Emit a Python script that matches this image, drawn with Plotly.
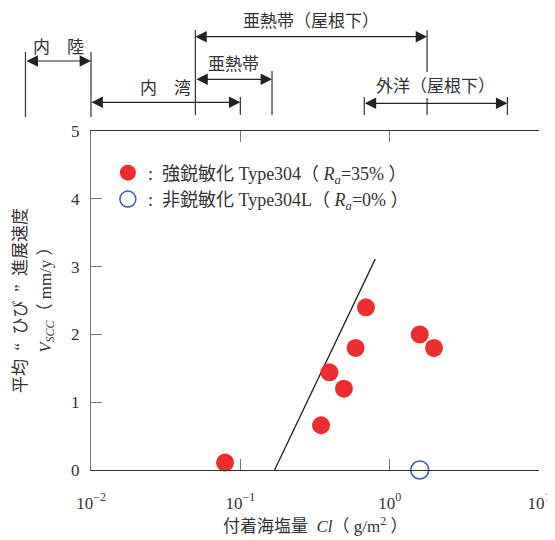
import numpy as np
import plotly.graph_objects as go

# ---------------- data ----------------
cl_sensitized = [0.079, 0.347, 0.395, 0.494, 0.591, 0.694, 1.59, 1.98]
v_sensitized = [0.11, 0.66, 1.44, 1.20, 1.80, 2.40, 2.00, 1.80]
cl_nonsensitized = [1.59]
v_nonsensitized = [0.0]
trend_cl = [0.1695, 0.80]
trend_v = [0.0, 3.11]

x_tickvals = [0.01, 0.1, 1, 10]
x_ticktext = ["10<sup>−2</sup>", "10<sup>−1</sup>", "10<sup>0</sup>", "10<sup>1</sup>"]
y_tickvals = [0, 1, 2, 3, 4, 5]

region_names = ["内　陸", "内　湾", "亜熱帯", "亜熱帯（屋根下）", "外洋（屋根下）"]
region_lo = [0.00364, 0.01, 0.05, 0.05, 0.676]
region_hi = [0.01, 0.1, 0.163, 1.78, 6.14]

# ---------------- layout constants ----------------
# the page body adds an 8 px offset; positions below are screen pixels
SHIFT = 8
W, H = 555, 540
PLOT_L, PLOT_R, PLOT_T, PLOT_B = 91, 542, 131, 470   # screen px
ML = PLOT_L - SHIFT
MT = PLOT_T - SHIFT
MR = W - (PLOT_R - SHIFT)
MB = H - (PLOT_B - SHIFT)
PW, PH = PLOT_R - PLOT_L, PLOT_B - PLOT_T
XMIN, XMAX = -2, 1
FONT = "Liberation Serif, Noto Sans CJK JP"
TXT = "#333333"
SP = "\u2002"  # en space


def xpaper(v):
    return (np.log10(v) - XMIN) / (XMAX - XMIN)


def xpix(px):
    return (px - PLOT_L) / PW


def ypaper(py):
    return (PLOT_B - py) / PH


# header layout (screen pixel rows)
arrow_rows = [61, 102.3, 79.3, 36.7, 103.3]
text_rows = [47.5, 88, 65, 21.5, 86]

fig = go.Figure()

fig.add_trace(go.Scatter(
    x=trend_cl, y=trend_v, mode="lines",
    line=dict(color="#222222", width=1.3),
    showlegend=False, hoverinfo="skip", cliponaxis=False))

fig.add_trace(go.Scatter(
    x=cl_sensitized, y=v_sensitized, mode="markers",
    name=":" + SP + "強鋭敏化 Type304（ <i>R<sub>a</sub></i>=35% ）",
    marker=dict(size=18, color="#EE2E2E", line=dict(width=0)),
    cliponaxis=False, legendgroup="a"))

fig.add_trace(go.Scatter(
    x=cl_nonsensitized, y=v_nonsensitized, mode="markers",
    name=":" + SP + "非鋭敏化 Type304L（ <i>R<sub>a</sub></i>=0% ）",
    marker=dict(size=18, color="white", line=dict(width=1.5, color="#3B5BA9")),
    cliponaxis=False, legendgroup="b"))

# header: range arrows and labels
for name, lo, hi, arow, trow in zip(region_names, region_lo, region_hi, arrow_rows, text_rows):
    x_lo, x_hi = xpaper(lo), xpaper(hi)
    fig.add_annotation(
        x=x_hi, y=ypaper(arow), xref="paper", yref="paper",
        ax=-(x_hi - x_lo) * PW, ay=0, axref="pixel", ayref="pixel",
        text="", showarrow=True, arrowside="end+start",
        arrowhead=2, startarrowhead=2, arrowsize=1.9, startarrowsize=1.9,
        arrowwidth=1.2, arrowcolor="#222222", standoff=0, startstandoff=0)
    fig.add_annotation(
        x=(x_lo + x_hi) / 2, y=ypaper(trow), xref="paper", yref="paper",
        text=name, showarrow=False, xanchor="center", yanchor="middle",
        font=dict(family=FONT, size=17, color=TXT))

# boundary vertical lines: (value, top row px, bottom row px)
vlines = [
    (0.00364, 52, 117), (0.01, 52, 117),
    (0.1, 97, 115),
    (0.05, 30, 115), (0.163, 71, 115),
    (1.78, 30, 72), (1.78, 98, 115),
    (0.676, 97, 115), (6.14, 97, 115),
]
for v, top, bot in vlines:
    fig.add_shape(type="line", xref="paper", yref="paper",
                  x0=xpaper(v), x1=xpaper(v), y0=ypaper(top), y1=ypaper(bot),
                  line=dict(color="#333333", width=1.2))

# axis titles
fig.add_annotation(
    x=xpix(19.5), y=ypaper(300), xref="paper", yref="paper",
    text="平均" + SP + "“" + SP + "ひび" + SP + "”" + SP + "進展速度",
    textangle=-90, showarrow=False,
    xanchor="center", yanchor="middle", font=dict(family=FONT, size=17, color=TXT))
fig.add_annotation(
    x=xpix(46.5), y=ypaper(296), xref="paper", yref="paper",
    text="<i>V</i><sub><i>SCC</i></sub>（ mm/y ）", textangle=-90, showarrow=False,
    xanchor="center", yanchor="middle", font=dict(family=FONT, size=17, color=TXT))
fig.add_annotation(
    x=0.5, y=ypaper(525), xref="paper", yref="paper",
    text="付着海塩量  <i>Cl</i>（ g/m<sup>2</sup> ）", showarrow=False,
    xanchor="center", yanchor="middle", font=dict(family=FONT, size=17, color=TXT))

fig.update_layout(
    width=W, height=H,
    margin=dict(l=ML, r=MR, t=MT, b=MB, pad=0),
    paper_bgcolor="white", plot_bgcolor="white",
    font=dict(family=FONT, size=17, color=TXT),
    showlegend=True,
    legend=dict(x=xpix(108), y=ypaper(154.5), xanchor="left", yanchor="top",
                bgcolor="rgba(0,0,0,0)", font=dict(family=FONT, size=18, color=TXT),
                tracegroupgap=0, traceorder="grouped"),
    xaxis=dict(type="log", range=[XMIN, XMAX], tickvals=x_tickvals, ticktext=x_ticktext,
               ticks="inside", ticklen=11, tickwidth=1.2, tickcolor="#777777",
               showline=True, linecolor="#333333", linewidth=1.3, mirror="ticks",
               showgrid=False, zeroline=False, ticklabelstandoff=17,
               tickfont=dict(family=FONT, size=17, color=TXT)),
    yaxis=dict(range=[0, 5], tickvals=y_tickvals, ticks="inside", ticklen=11,
               tickwidth=1.2, tickcolor="#777777",
               showline=True, linecolor="#777777", linewidth=1.3,
               showgrid=False, zeroline=False, ticklabelstandoff=7,
               tickfont=dict(family=FONT, size=17, color=TXT)),
)

fig.write_html("out.html")
